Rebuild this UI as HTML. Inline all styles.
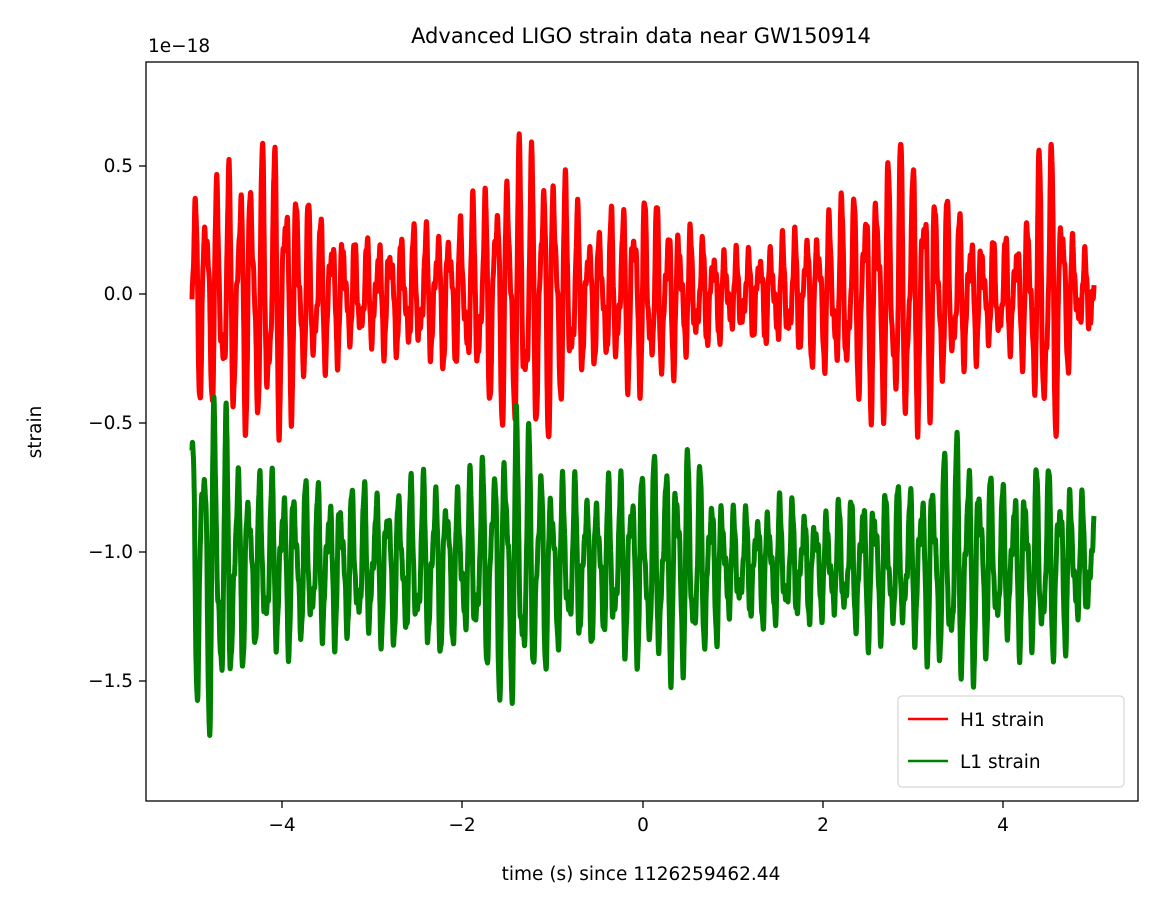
<!DOCTYPE html>
<html><head><meta charset="utf-8"><style>
body{margin:0;background:#fff;}
svg text{font-family:"DejaVu Sans","Liberation Sans",sans-serif;fill:#000;}
</style></head><body>
<svg id="s" width="1158" height="908" xmlns="http://www.w3.org/2000/svg">
<rect width="1158" height="908" fill="#fff"/>
<g id="plot"></g>
<rect x="146" y="62" width="992" height="739" fill="none" stroke="#000" stroke-width="1.3"/>
<g stroke="#000" stroke-width="1.3">
<line x1="282" y1="801" x2="282" y2="808"/><line x1="462" y1="801" x2="462" y2="808"/><line x1="643" y1="801" x2="643" y2="808"/><line x1="823" y1="801" x2="823" y2="808"/><line x1="1003" y1="801" x2="1003" y2="808"/>
<line x1="139" y1="166" x2="146" y2="166"/><line x1="139" y1="294" x2="146" y2="294"/><line x1="139" y1="423" x2="146" y2="423"/><line x1="139" y1="552" x2="146" y2="552"/><line x1="139" y1="681" x2="146" y2="681"/>
</g>
<g font-size="18.5" text-anchor="middle">
<text x="282" y="831">−4</text><text x="462" y="831">−2</text><text x="643" y="831">0</text><text x="823" y="831">2</text><text x="1003" y="831">4</text>
</g>
<g font-size="18.5" text-anchor="end">
<text x="133" y="172">0.5</text><text x="133" y="300">0.0</text><text x="133" y="429">−0.5</text><text x="133" y="558">−1.0</text><text x="133" y="687">−1.5</text>
</g>
<text x="148" y="52" font-size="18.5">1e−18</text>
<text x="641" y="43" font-size="21" text-anchor="middle">Advanced LIGO strain data near GW150914</text>
<text x="641" y="880" font-size="18.5" text-anchor="middle">time (s) since 1126259462.44</text>
<text x="0" y="0" font-size="18.5" text-anchor="middle" transform="translate(41,432) rotate(-90)">strain</text>
<rect x="898" y="696" width="226" height="91" rx="4" fill="#fff" fill-opacity="0.85" stroke="#ccc"/>
<line x1="908" y1="719" x2="948" y2="719" stroke="#f00" stroke-width="2.5"/>
<line x1="908" y1="761" x2="948" y2="761" stroke="#008000" stroke-width="2.5"/>
<text x="960" y="726" font-size="18.5">H1 strain</text>
<text x="960" y="768" font-size="18.5">L1 strain</text>
</svg>
<script>
function interp(k,t){for(let i=0;i<k.length-1;i++){if(t<=k[i+1][0]){const a=k[i],b=k[i+1],f=(t-a[0])/(b[0]-a[0]);return a[1]+(b[1]-a[1])*f;}}return k[k.length-1][1];}
const rk=[[-5,0.4],[-4.5,0.5],[-4.1,0.6],[-3.7,0.35],[-3.2,0.2],[-2.5,0.25],[-2,0.3],[-1.4,0.58],[-1,0.55],[-0.6,0.25],[0,0.4],[0.5,0.25],[1,0.15],[1.5,0.2],[2,0.3],[2.5,0.45],[2.9,0.6],[3.3,0.4],[3.8,0.2],[4.2,0.25],[4.5,0.7],[4.8,0.15],[5,0.15]];
const gk=[[-5,0.5],[-4.75,0.7],[-4.4,0.35],[-4,0.35],[-3.5,0.3],[-2.8,0.3],[-2.3,0.35],[-2,0.3],[-1.4,0.6],[-1,0.35],[-0.5,0.3],[0,0.4],[0.5,0.45],[1,0.2],[1.5,0.25],[2,0.2],[2.5,0.3],[3,0.3],[3.5,0.5],[4,0.3],[4.5,0.4],[5,0.2]];
function X(t){return 643+t*90.2}function Y(v){return 294-v*257.6}
function series(k,c,p,col){let pts=[];for(let i=0;i<=8000;i++){const t=-5+10*i/8000;
const a=interp(k,t);const v=c+a*(0.75*Math.sin(2*Math.PI*7.8*t+p+0.8*Math.sin(1.3*t))+0.3*Math.sin(2*Math.PI*13.7*t+2*p))+0.03*Math.sin(2*Math.PI*37*t+p);
pts.push(X(t).toFixed(1)+","+Y(v).toFixed(1));}
return '<polyline fill="none" stroke="'+col+'" stroke-width="5" stroke-linejoin="round" points="'+pts.join(" ")+'"/>';}
document.getElementById("plot").innerHTML=series(rk,0.0,0.3,"#f00")+series(gk,-1.05,1.7,"#008000");
</script>
</body></html>
